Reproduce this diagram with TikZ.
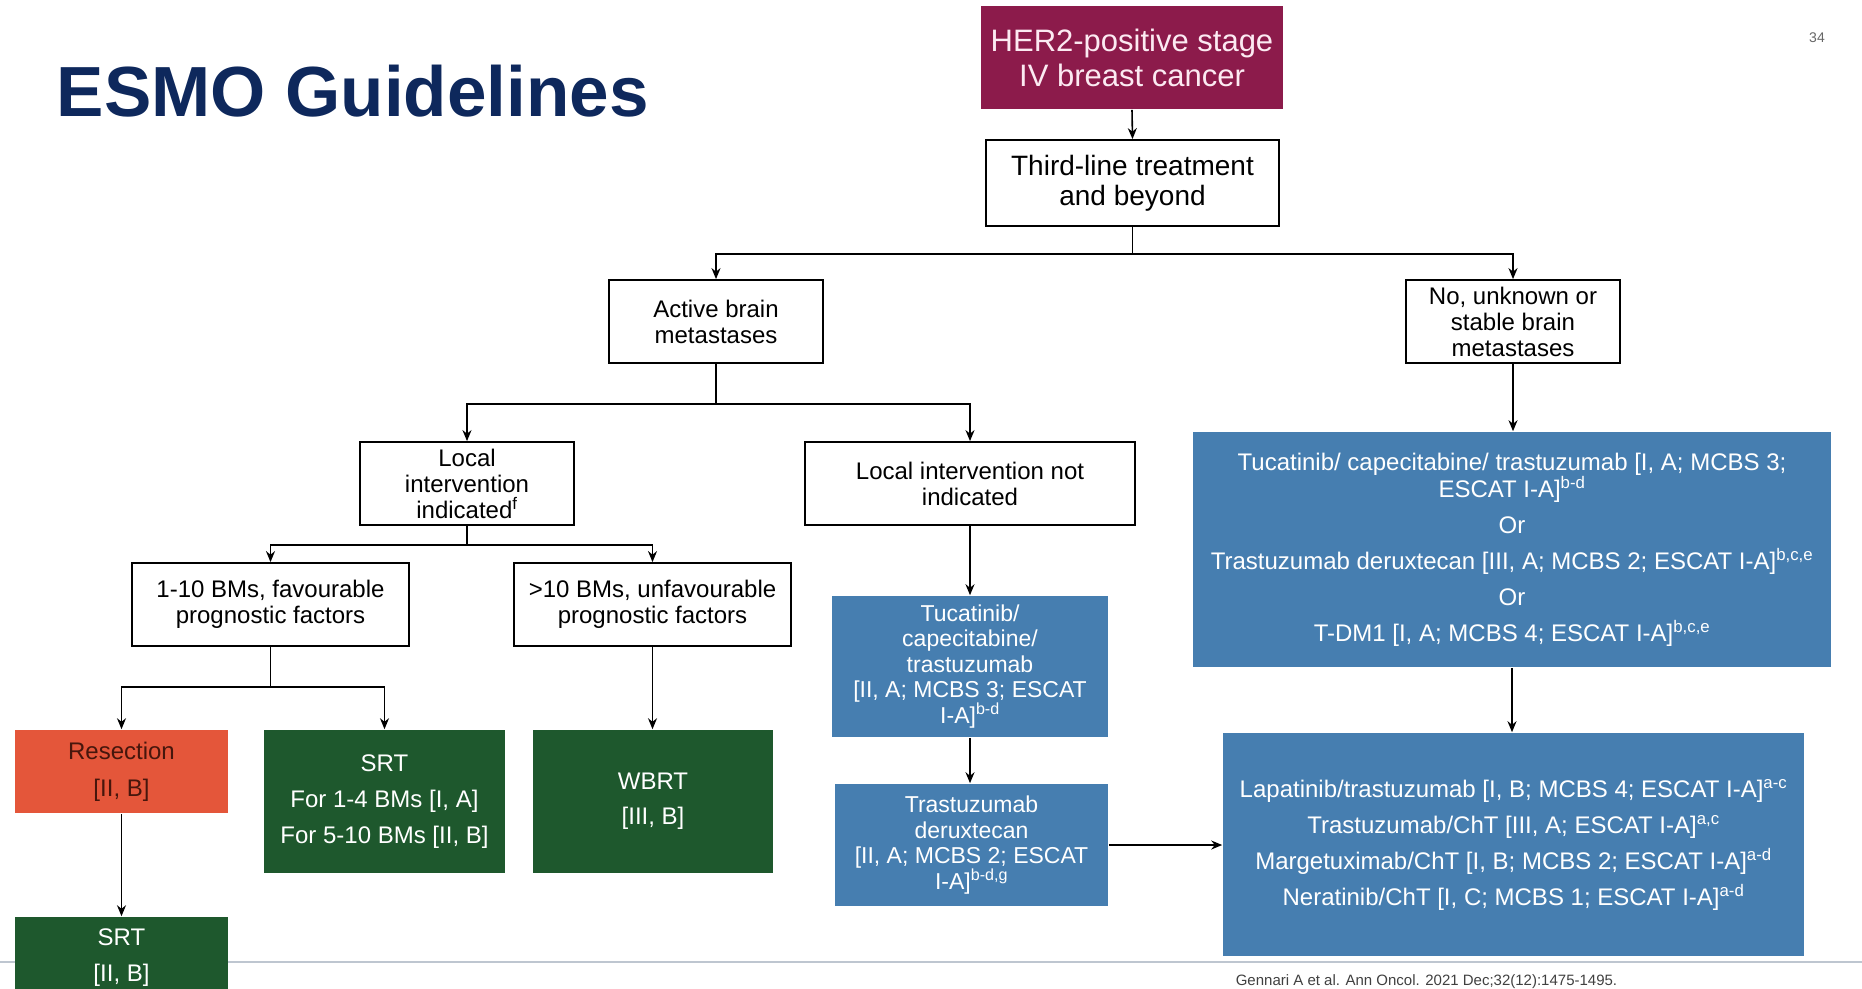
\documentclass[tikz,border=0pt]{standalone}
\usepackage{fontspec}
\setmainfont{Liberation Sans}
\usetikzlibrary{arrows.meta}

\definecolor{titlenavy}{RGB}{14,40,92}
\definecolor{her2red}{RGB}{140,27,75}
\definecolor{rxblue}{RGB}{70,126,176}
\definecolor{rxgreen}{RGB}{30,88,45}
\definecolor{rxorange}{RGB}{228,86,58}
\definecolor{footgrey}{RGB}{190,198,208}

\begin{document}
\begin{tikzpicture}[x=1pt, y=-1pt, color=black, >={Stealth[length=11pt,width=9pt]},
    line width=1.6pt,
    every node/.style={align=center, inner sep=0pt},
    whitebox/.style={draw=black, line width=1.8pt, fill=white, text=black,
      font=\fontsize{24}{26}\selectfont},
    bluebox/.style={fill=rxblue, text=white, font=\fontsize{24}{26}\selectfont},
    greenbox/.style={fill=rxgreen, text=white, font=\fontsize{24}{36}\selectfont}]
  \useasboundingbox (0,0) rectangle (1862,988);
  % Slide furniture
  \draw[line width=1.2pt, footgrey] (0,962) -- (1862,962);
  \node[anchor=base west, text=titlenavy, font=\fontsize{71}{80}\selectfont\bfseries]
    (title) at (56,116) {ESMO Guidelines};
  \node[text=black!60, font=\fontsize{14}{16}\selectfont] (pageno) at (1817,38) {34};
  \node[anchor=base west, text=black!75, font=\fontsize{15}{17}\selectfont]
    (cite) at (1235,985) {Gennari A et al. Ann Oncol. 2021 Dec;32(12):1475-1495.};
  % Top of the tree
  \node[fill=her2red, text={rgb,255:red,252;green,234;blue,242}, minimum width=302,
    minimum height=103, font=\fontsize{31}{35}\selectfont]
    (her2) at (1132,57.5) {HER2-positive stage\\IV breast cancer};
  \node[whitebox, minimum width=293, minimum height=86, font=\fontsize{28}{30}\selectfont]
    (third) at (1132.5,183) {Third-line treatment\\and beyond};
  \node[whitebox, minimum width=214, minimum height=83]
    (active) at (716,321.5) {Active brain\\metastases};
  \node[whitebox, minimum width=214, minimum height=83]
    (stable) at (1513,321.5) {No, unknown or\\stable brain\\metastases};
  % Active brain metastases branch
  \node[whitebox, minimum width=214, minimum height=83]
    (localyes) at (467,483.5) {Local\\intervention\\indicated\textsuperscript{f}};
  \node[whitebox, minimum width=330, minimum height=83]
    (localno) at (970,483.5) {Local intervention not\\indicated};
  \node[whitebox, minimum width=277, minimum height=83]
    (fav) at (270.5,604.5) {1-10 BMs, favourable\\prognostic factors};
  \node[whitebox, minimum width=277, minimum height=83]
    (unfav) at (652.5,604.5) {>10 BMs, unfavourable\\prognostic factors};
  \node[fill=rxorange, text={rgb,255:red,70;green,22;blue,12}, minimum width=213,
    minimum height=83, font=\fontsize{24}{37}\selectfont]
    (resect) at (121.5,771.5) {Resection\\{}[II, B]};
  \node[greenbox, minimum width=241, minimum height=143]
    (srta) at (384.5,801.5) {SRT\\For 1-4 BMs [I, A]\\For 5-10 BMs [II, B]};
  \node[greenbox, minimum width=240, minimum height=143, font=\fontsize{24}{35}\selectfont]
    (wbrt) at (653,801.5) {WBRT\\{}[III, B]};
  \node[greenbox, minimum width=213, minimum height=82]
    (srtb) at (121.5,958) {SRT\\{}[II, B]};
  \node[bluebox, minimum width=276, minimum height=141, font=\fontsize{23}{25.5}\selectfont]
    (tuca) at (970,666.5) {Tucatinib/\\capecitabine/\\trastuzumab\\{}[II, A; MCBS 3; ESCAT\\I-A]\textsuperscript{b-d}};
  \node[bluebox, minimum width=273, minimum height=122, font=\fontsize{23}{25.5}\selectfont]
    (tdxd) at (971.5,845) {Trastuzumab\\deruxtecan\\{}[II, A; MCBS 2; ESCAT\\I-A]\textsuperscript{b-d,g}};
  % Stable brain metastases branch
  \node[bluebox, minimum width=638, minimum height=235]
    (firstrx) at (1512,549.5) {Tucatinib/ capecitabine/ trastuzumab [I, A; MCBS 3;\\ESCAT I-A]\textsuperscript{b-d}\\[10pt]
      Or\\[10pt]
      Trastuzumab deruxtecan [III, A; MCBS 2; ESCAT I-A]\textsuperscript{b,c,e}\\[10pt]
      Or\\[10pt]
      T-DM1 [I, A; MCBS 4; ESCAT I-A]\textsuperscript{b,c,e}};
  \node[bluebox, minimum width=581, minimum height=223, font=\fontsize{24}{36}\selectfont]
    (laterrx) at (1513.5,844.5) {Lapatinib/trastuzumab [I, B; MCBS 4; ESCAT I-A]\textsuperscript{a-c}\\
      Trastuzumab/ChT [III, A; ESCAT I-A]\textsuperscript{a,c}\\
      Margetuximab/ChT [I, B; MCBS 2; ESCAT I-A]\textsuperscript{a-d}\\
      Neratinib/ChT [I, C; MCBS 1; ESCAT I-A]\textsuperscript{a-d}};
  % Connectors
  \draw[->] (her2.south) -- (third.north);
  \draw (third.south) -- ++(0,27) coordinate (split1);
  \draw[->] (split1) -| (active.north);
  \draw[->] (split1) -| (stable.north);
  \draw (active.south) -- ++(0,40) coordinate (split2);
  \draw[->] (split2) -| (localyes.north);
  \draw[->] (split2) -| (localno.north);
  \draw (localyes.south) -- ++(0,19) coordinate (split3);
  \draw[->] (split3) -| (fav.north);
  \draw[->] (split3) -| (unfav.north);
  \draw (fav.south) -- ++(0,40) coordinate (split4);
  \draw[->] (split4) -| (resect.north);
  \draw[->] (split4) -| (srta.north);
  \draw[->] (unfav.south) -- (unfav.south |- wbrt.north);
  \draw[->] (resect.south) -- (srtb.north);
  \draw[->] (localno.south) -- (tuca.north);
  \draw[->] (tuca.south) -- (tuca.south |- tdxd.north);
  \draw[->] (tdxd.east) -- (tdxd.east -| laterrx.west);
  \draw[->] (stable.south) -- (stable.south |- firstrx.north);
  \draw[->] (firstrx.south) -- (firstrx.south |- laterrx.north);
\end{tikzpicture}
\end{document}
